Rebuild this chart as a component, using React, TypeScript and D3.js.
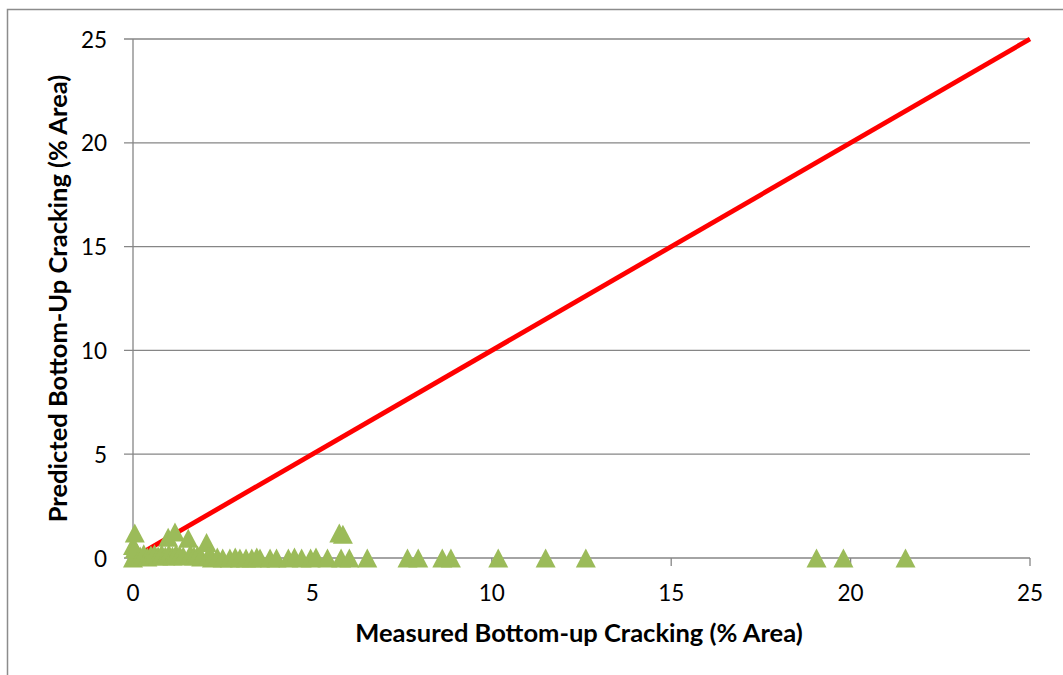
import * as d3 from "d3";

// measured (x) vs predicted (y) bottom-up cracking, % area
const measured = [
  0, 0.05, 0.1, 0, 0.05, 0.05, 0.2, 0.3, 0.4, 0.5, 0.6, 0.7, 0.8, 0.9, 0.98,
  1.0, 1.1, 1.17, 1.2, 1.3, 1.4, 1.54, 1.6, 1.7, 1.8, 1.9, 2.05, 2.1, 2.2,
  2.35, 2.5, 2.7, 2.85, 2.98, 3.15, 3.31, 3.45, 3.54, 3.82, 4.0, 4.33, 4.5,
  4.7, 4.95, 5.1, 5.42, 5.75, 5.85, 5.8, 6.03, 6.53, 7.65, 7.95, 8.62, 8.86,
  10.18, 11.5, 12.62, 19.05, 19.8, 21.53,
];
const predicted = [
  0, 0.1, 0.3, 0.6, 0.45, 1.2, 0.1, 0.2, 0.05, 0.15, 0.2, 0.1, 0.2, 0.1, 1.0,
  0.2, 0.1, 1.25, 0.2, 0.15, 0.1, 0.95, 0.2, 0.1, 0.15, 0.05, 0.75, 0.1, 0,
  0.05, 0, 0, 0.05, 0, 0, 0, 0.05, 0, 0, 0, 0, 0.05, 0, 0, 0.05, 0, 1.2, 1.15,
  0, 0, 0, 0, 0, 0, 0, 0, 0, 0, 0, 0, 0,
];
// line of equality
const equalityX = [0, 25];
const equalityY = [0, 25];
const ticks = [0, 5, 10, 15, 20, 25];

const font = "Lato, 'Open Sans', sans-serif";

export default function App() {
  const width = 1063;
  const height = 675;
  const margin = { top: 39, right: 33, bottom: 117, left: 133 };

  const x = d3
    .scaleLinear()
    .domain([0, 25])
    .range([margin.left, width - margin.right]);
  const y = d3
    .scaleLinear()
    .domain([0, 25])
    .range([height - margin.bottom, margin.top]);

  const line = d3
    .line<number>()
    .x((d) => x(d))
    .y((_, i) => y(equalityY[i]));

  const tri = "M0,-9.5L10,9.5L-10,9.5Z";
  const gray = "#868686";

  return (
    <svg
      width={width}
      height={height}
      style={{ position: "absolute", left: 0, top: 0, background: "white" }}
      fontFamily={font}
    >
      <rect
        x={7.5}
        y={9.5}
        width={width + 20}
        height={height + 20}
        fill="white"
        stroke="#8c8c8c"
        strokeWidth={1.5}
      />
      {ticks.map((t) => (
        <g key={`y-${t}`}>
          <line
            x1={x(0) - 9}
            x2={x(25)}
            y1={y(t)}
            y2={y(t)}
            stroke={gray}
            strokeWidth={1.3}
          />
          <text
            x={107}
            y={y(t)}
            textAnchor="end"
            dominantBaseline="central"
            fontSize={22.5}
          >
            {t}
          </text>
        </g>
      ))}
      <line x1={x(0)} x2={x(0)} y1={y(25)} y2={y(0)} stroke={gray} strokeWidth={1.3} />
      {ticks.map((t) => (
        <g key={`x-${t}`}>
          <line
            x1={x(t)}
            x2={x(t)}
            y1={y(0)}
            y2={y(0) + 8}
            stroke={gray}
            strokeWidth={1.3}
          />
          <text
            x={x(t)}
            y={592}
            textAnchor="middle"
            dominantBaseline="central"
            fontSize={22.5}
          >
            {t}
          </text>
        </g>
      ))}
      <path
        d={line(equalityX) ?? ""}
        fill="none"
        stroke="#ff0000"
        strokeWidth={4.8}
      />
      {measured.map((m, i) => (
        <path
          key={`p-${i}`}
          d={tri}
          transform={`translate(${x(m)},${y(predicted[i])})`}
          fill="#9bbb59"
        />
      ))}
      <text
        x={579}
        y={632}
        textAnchor="middle"
        dominantBaseline="central"
        fontSize={25.5}
        fontWeight="bold"
      >
        Measured Bottom-up Cracking (% Area)
      </text>
      <text
        transform={`translate(57,${(y(0) + y(25)) / 2}) rotate(-90)`}
        textAnchor="middle"
        dominantBaseline="central"
        fontSize={25.5}
        fontWeight="bold"
      >
        Predicted Bottom-Up Cracking (% Area)
      </text>
    </svg>
  );
}
